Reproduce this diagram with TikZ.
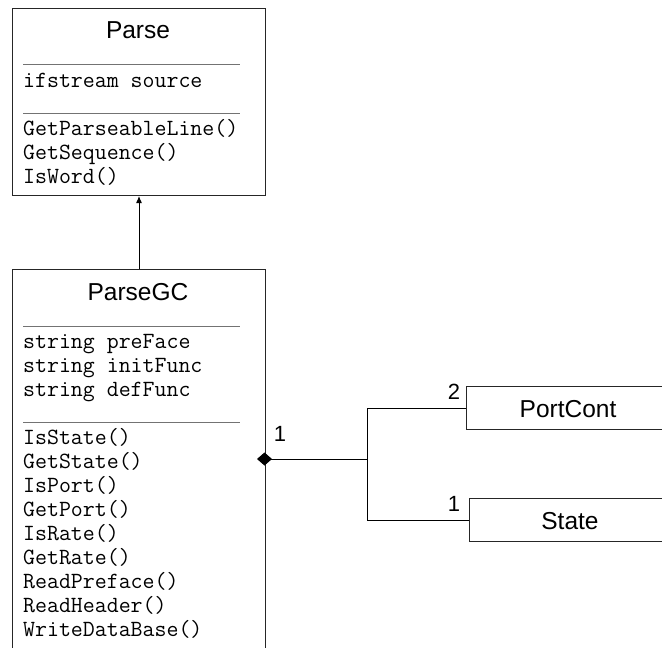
\documentclass[tikz,border=0pt]{standalone}
\usepackage{fontspec}
\setmainfont{Liberation Sans}
\usetikzlibrary{arrows.meta}

\tikzset{
  classbox/.style={draw=black!85, line width=1pt, fill=white, rectangle, inner sep=0pt, anchor=north west},
  title/.style={font=\fontsize{24.5}{28}\selectfont, anchor=base, inner sep=0pt},
  member/.style={font=\ttfamily\fontsize{23.2}{24}\selectfont, anchor=base west, inner sep=0pt},
  divider/.style={draw=black!55, line width=1pt},
  mult/.style={font=\fontsize{22}{24}\selectfont, anchor=base, inner sep=0pt},
  link/.style={draw=black, line width=1pt},
}

\begin{document}
\begin{tikzpicture}[x=1pt, y=-1pt]
\useasboundingbox (0,0) rectangle (662,648);
\clip (0,0) rectangle (662,648);

% class boxes
\node[classbox, minimum width=253pt, minimum height=187pt] (parse) at (12,8) {};
\node[classbox, minimum width=253pt, minimum height=420pt] (parsegc) at (12,269) {};
\node[classbox, minimum width=250pt, minimum height=43pt] (portcont) at (466,386) {};
\node[classbox, minimum width=250pt, minimum height=43pt] (state) at (469,498) {};

% Parse
\node[title] (parseT) at (138,38) {Parse};
\draw[divider] (23,64) -- (240,64);
\node[member] (p1) at (23,87) {ifstream source};
\draw[divider] (23,113) -- (240,113);
\node[member] (p2) at (23,135) {GetParseableLine()};
\node[member] (p3) at (23,159) {GetSequence()};
\node[member] (p4) at (23,183) {IsWord()};

% ParseGC
\node[title] (gcT) at (138,300) {ParseGC};
\draw[divider] (23,326) -- (240,326);
\node[member] (g1) at (23,348) {string preFace};
\node[member] (g2) at (23,372) {string initFunc};
\node[member] (g3) at (23,396) {string defFunc};
\draw[divider] (23,422) -- (240,422);
\node[member] (m1) at (23,444) {IsState()};
\node[member] (m2) at (23,468) {GetState()};
\node[member] (m3) at (23,492) {IsPort()};
\node[member] (m4) at (23,516) {GetPort()};
\node[member] (m5) at (23,540) {IsRate()};
\node[member] (m6) at (23,564) {GetRate()};
\node[member] (m7) at (23,588) {ReadPreface()};
\node[member] (m8) at (23,612) {ReadHeader()};
\node[member] (m9) at (23,636) {WriteDataBase()};

% small classes
\node[title] (pcT) at (568,417) {PortCont};
\node[title] (stT) at (570,529) {State};

% inheritance
\draw[link, -{Latex[length=7pt, width=6pt]}] (parsegc.north) -- (parse.south);

% composition
\coordinate (agg) at (257,459);
\coordinate (junc) at (367,459);
\draw[link, {Diamond[length=15pt, width=13pt]}-] (agg) -- (junc);
\draw[link] (junc) |- (portcont.west);
\draw[link] (junc) |- (state.west);

% multiplicities
\node[mult] (n1) at (280,441) {1};
\node[mult] (n2) at (454,399) {2};
\node[mult] (n3) at (454,511) {1};
\end{tikzpicture}
\end{document}
